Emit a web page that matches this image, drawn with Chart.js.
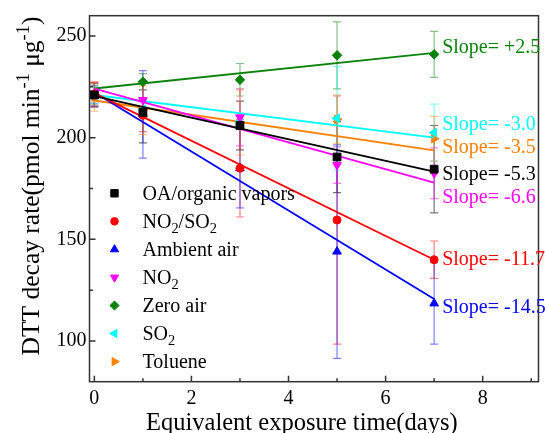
<!DOCTYPE html>
<html>
<head>
<meta charset="utf-8">
<script src="https://cdn.jsdelivr.net/npm/chart.js@4"></script>
<style>
  html, body { margin: 0; padding: 0; background: #fff; }
  canvas { display: block; }
</style>
</head>
<body>
<canvas id="dttChart" width="545" height="433"></canvas>
<script>
// DTT decay rate vs equivalent exposure time, one series per exposure condition
const days = [0, 1, 3, 5, 7];

const oaRate      = [221.0, 212.5, 206.0, 190.5, 184.5];
const oaErr       = [6, 15, 12, 17.5, 21.5];
const no2so2Rate  = [221.5, 211.0, 185.0, 159.5, 140.0];
const no2so2Err   = [6, 8, 24, 61, 9.2];
const ambientRate = [220.5, 211.5, 185.0, 144.0, 118.5];
const ambientErr  = [5, 21.5, 19.5, 52.5, 20];
const no2Rate     = [222.0, 218.5, 210.0, 186.5, 182.5];
const no2Err      = [5, 5, 14, 9, 12.5];
const zeroRate    = [221.5, 227.5, 228.5, 240.5, 241.0];
const zeroErr     = [5, 4, 8, 16.5, 11.3];
const so2Rate     = [221.0, 214.0, 208.0, 209.5, 202.5];
const so2Err      = [4, 4, 4, 25.5, 14];
const tolRate     = [220.0, 213.5, 207.5, 209.0, 199.5];
const tolErr      = [7, 12, 16, 12, 11];

// linear fits (slope per day, value at day 0)
const fitSlopes     = [-5.3, -11.7, -14.5, -6.6, 2.5, -3.0, -3.5];
const fitIntercepts = [220.4, 221.9, 222.2, 224.1, 224.2, 221.0, 218.3];
const fitEnd = 7;

const seriesNames = ['OA/organic vapors', 'NO_{2}/SO_{2}', 'Ambient air', 'NO_{2}', 'Zero air', 'SO_{2}', 'Toluene'];

const xTicks = [0, 2, 4, 6, 8];
const xMinor = [1, 3, 5, 7, 9];
const yTicks = [100, 150, 200, 250];
const yMinor = [125, 175, 225];

// styling
const seriesColors = ['#000000', '#ff0000', '#0000ff', '#ff00ff', '#0a820a', '#00ffff', '#ff8000'];
const markerShapes = ['rect', 'circle', 'triangle', 'triangle', 'rectRot', 'triangle', 'triangle'];
const markerRotation = [0, 0, 0, 180, 0, -90, 90];
const markerSize = [5.5, 4, 5, 5, 4.8, 5, 5];
const slopeLabelY = [180, 265, 313.3, 202.7, 53.3, 130, 153.3]; // baseline px of each slope note
const serif = '"Liberation Serif", "Times New Roman", serif';

const pointSeries = [
  { values: oaRate, err: oaErr },
  { values: no2so2Rate, err: no2so2Err },
  { values: ambientRate, err: ambientErr },
  { values: no2Rate, err: no2Err },
  { values: zeroRate, err: zeroErr },
  { values: so2Rate, err: so2Err },
  { values: tolRate, err: tolErr }
];

function alpha(hex, a) {
  const n = parseInt(hex.slice(1), 16);
  return `rgba(${n >> 16},${(n >> 8) & 255},${n & 255},${a})`;
}

// text with _{sub} and ^{sup} parts
function parseRich(str) {
  const parts = [];
  const re = /([_^])\{([^}]*)\}/g;
  let last = 0, m;
  while ((m = re.exec(str))) {
    if (m.index > last) parts.push({ t: str.slice(last, m.index), k: '' });
    parts.push({ t: m[2], k: m[1] });
    last = re.lastIndex;
  }
  if (last < str.length) parts.push({ t: str.slice(last), k: '' });
  return parts;
}

function drawRich(ctx, str, x, y, size, align) {
  const parts = parseRich(str);
  const fontOf = k => (k ? size * 0.72 : size) + 'px ' + serif;
  let total = 0;
  parts.forEach(p => { ctx.font = fontOf(p.k); p.w = ctx.measureText(p.t).width; total += p.w; });
  let cx = align === 'center' ? x - total / 2 : x;
  ctx.textAlign = 'left';
  ctx.textBaseline = 'alphabetic';
  parts.forEach(p => {
    ctx.font = fontOf(p.k);
    const dy = p.k === '_' ? size * 0.24 : (p.k === '^' ? -size * 0.4 : 0);
    ctx.fillText(p.t, cx, y + dy);
    cx += p.w;
  });
}

const datasets = [];
pointSeries.forEach((s, i) => {
  datasets.push({
    label: seriesNames[i] + ' fit',
    data: [
      { x: 0, y: fitIntercepts[i] },
      { x: fitEnd, y: fitIntercepts[i] + fitSlopes[i] * fitEnd }
    ],
    showLine: true,
    borderColor: seriesColors[i],
    borderWidth: 1.8,
    pointRadius: 0
  });
  datasets.push({
    label: seriesNames[i],
    data: days.map((d, k) => ({ x: d, y: s.values[k] })),
    showLine: false,
    backgroundColor: seriesColors[i],
    borderColor: seriesColors[i],
    borderWidth: 1,
    pointStyle: markerShapes[i],
    rotation: markerRotation[i],
    pointRadius: markerSize[i]
  });
});

const errorBars = {
  id: 'errorBars',
  beforeDatasetsDraw(chart) {
    const { ctx, scales: { x, y } } = chart;
    ctx.save();
    ctx.lineWidth = 1.2;
    pointSeries.forEach((s, i) => {
      ctx.strokeStyle = alpha(seriesColors[i], i === 0 ? 0.55 : 0.5);
      s.values.forEach((v, k) => {
        const px = x.getPixelForValue(days[k]);
        const top = y.getPixelForValue(v + s.err[k]);
        const bot = y.getPixelForValue(v - s.err[k]);
        ctx.beginPath();
        ctx.moveTo(px, top); ctx.lineTo(px, bot);
        ctx.moveTo(px - 4, top); ctx.lineTo(px + 4, top);
        ctx.moveTo(px - 4, bot); ctx.lineTo(px + 4, bot);
        ctx.stroke();
      });
    });
    ctx.restore();
  }
};

const frameAndNotes = {
  id: 'frameAndNotes',
  afterDraw(chart) {
    const { ctx, chartArea: a, scales: { x, y } } = chart;
    ctx.save();
    // axis box with inward ticks
    ctx.strokeStyle = '#333';
    ctx.lineWidth = 1.5;
    ctx.strokeRect(a.left, a.top, a.right - a.left, a.bottom - a.top);
    ctx.beginPath();
    xTicks.forEach(v => { const p = x.getPixelForValue(v); ctx.moveTo(p, a.bottom); ctx.lineTo(p, a.bottom - 6); });
    xMinor.forEach(v => { const p = x.getPixelForValue(v); ctx.moveTo(p, a.bottom); ctx.lineTo(p, a.bottom - 3.5); });
    yTicks.forEach(v => { const p = y.getPixelForValue(v); ctx.moveTo(a.left, p); ctx.lineTo(a.left + 6, p); });
    yMinor.forEach(v => { const p = y.getPixelForValue(v); ctx.moveTo(a.left, p); ctx.lineTo(a.left + 3.5, p); });
    ctx.stroke();

    // slope notes next to the last points
    const nx = x.getPixelForValue(fitEnd) + 8;
    fitSlopes.forEach((s, i) => {
      ctx.fillStyle = seriesColors[i];
      const txt = 'Slope= ' + (s > 0 ? '+' : '') + s.toFixed(1);
      drawRich(ctx, txt, nx, slopeLabelY[i], 20, 'left');
    });

    // legend
    seriesNames.forEach((name, i) => {
      const ry = 193.3 + i * 28.05;
      ctx.fillStyle = seriesColors[i];
      ctx.strokeStyle = seriesColors[i];
      ctx.lineWidth = 1;
      Chart.helpers.drawPoint(ctx, {
        pointStyle: markerShapes[i],
        rotation: markerRotation[i],
        radius: markerSize[i] * 0.95,
        borderWidth: 1
      }, 114.5, ry);
      ctx.fillStyle = '#000';
      drawRich(ctx, name, 142.5, ry + 6.8, 20, 'left');
    });

    // axis titles
    ctx.fillStyle = '#000';
    drawRich(ctx, 'Equivalent exposure time(days)', 146, 430, 24.5, 'left');
    ctx.translate(39, 186);
    ctx.rotate(-Math.PI / 2);
    drawRich(ctx, 'DTT decay rate(pmol min^{-1} μg^{-1})', 0, 0, 25.5, 'center');
    ctx.restore();
  }
};

new Chart(document.getElementById('dttChart'), {
  type: 'scatter',
  data: { datasets },
  options: {
    responsive: false,
    animation: false,
    devicePixelRatio: 1,
    layout: { padding: { top: 15.7, right: 2, left: 0, bottom: 0 } },
    plugins: { legend: { display: false }, tooltip: { enabled: false } },
    scales: {
      x: {
        type: 'linear',
        min: -0.1,
        max: 9.15,
        afterBuildTicks: s => { s.ticks = xTicks.map(v => ({ value: v })); },
        afterFit: s => { s.height = 51.3; },
        grid: { display: false, drawTicks: false },
        border: { display: false },
        ticks: { color: '#000', padding: 5, font: { family: serif, size: 20 } }
      },
      y: {
        type: 'linear',
        min: 80,
        max: 260,
        afterBuildTicks: s => { s.ticks = yTicks.map(v => ({ value: v })); },
        afterFit: s => { s.width = 89.5; },
        grid: { display: false, drawTicks: false },
        border: { display: false },
        ticks: { color: '#000', padding: 3, font: { family: serif, size: 20 } }
      }
    }
  },
  plugins: [errorBars, frameAndNotes]
});
</script>
</body>
</html>
